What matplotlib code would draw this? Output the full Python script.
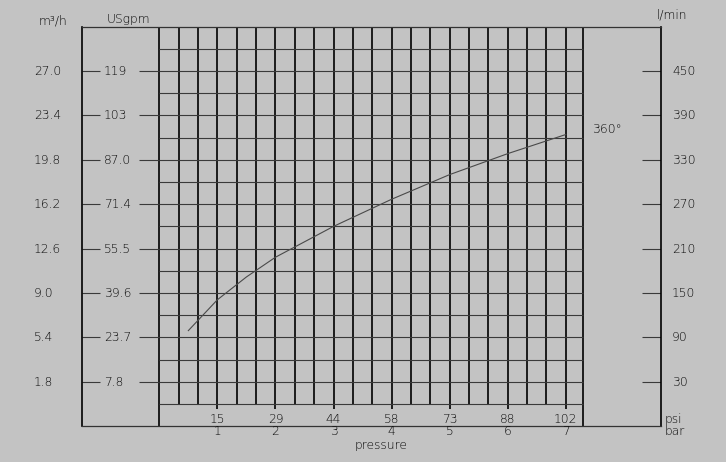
import matplotlib
matplotlib.use("Agg")
import matplotlib.pyplot as plt
import numpy as np

# curve (pressure in bar, flow in m3/h)
pressure_bar = [0.5, 0.7, 1.0, 1.5, 2.0, 3.0, 4.0, 5.0, 6.0, 7.0]
flow_m3h = [5.95, 6.95, 8.45, 10.3, 11.9, 14.4, 16.6, 18.6, 20.3, 21.85]
curve_label = "360°"

# axis labels
flow_ticks = [1.8, 5.4, 9.0, 12.6, 16.2, 19.8, 23.4, 27.0]
m3h_labels = ["1.8", "5.4", "9.0", "12.6", "16.2", "19.8", "23.4", "27.0"]
gpm_labels = ["7.8", "23.7", "39.6", "55.5", "71.4", "87.0", "103", "119"]
lmin_labels = ["30", "90", "150", "210", "270", "330", "390", "450"]
bar_ticks = [1, 2, 3, 4, 5, 6, 7]
psi_labels = ["15", "29", "44", "58", "73", "88", "102"]

BG = "#c3c3c3"
TXT = "#0a0a0a"
FS = 8.8
plt.rcParams["font.weight"] = "light"

# pixel layout of the original picture
X0, PX_BAR = 159.3, 58.07
Y0, PX_M3H = 404.0, 22.2 / 1.8
GRID_RIGHT = 7.3


def fx(px):
    return (px - X0) / PX_BAR


def fy(py):
    return (Y0 - py) / PX_M3H


fig = plt.figure(figsize=(7.26, 4.62), dpi=100, facecolor=BG)
ax = fig.add_axes([82 / 726, (462 - 426) / 462, (661 - 82) / 726, (426 - 27) / 462])
ax.set_facecolor(BG)
ax.set_xlim(fx(82), fx(661))
ax.set_ylim(fy(426), fy(27))
ax.set_xticks([])
ax.set_yticks([])
for side in ["left", "right"]:
    ax.spines[side].set_color("black")
    ax.spines[side].set_linewidth(1.2)
for side in ["top", "bottom"]:
    ax.spines[side].set_color("#333333")
    ax.spines[side].set_linewidth(0.9)

# grid
ax.vlines([0, GRID_RIGHT], fy(426), fy(27), color="black", lw=1.2)
minor = np.arange(1, 22) / 3.0
ax.vlines(minor, 0, fy(27), color="black", lw=1.2)
ax.vlines(bar_ticks, fy(409), 0, color="black", lw=1.2)
hl = np.arange(0, 17) * 1.8
ax.hlines(hl, 0, GRID_RIGHT, color="#3a3a3a", lw=0.8)

# side ticks
ax.hlines(flow_ticks, fx(82), fx(100), color="#3a3a3a", lw=0.8)
ax.hlines(flow_ticks, fx(139), 0, color="#3a3a3a", lw=0.8)
ax.hlines(flow_ticks, fx(642), fx(661), color="#3a3a3a", lw=0.8)

# curve
ax.plot(pressure_bar, flow_m3h, color="#4a4a4a", lw=0.8)
ax.text(fx(592), fy(129), curve_label, fontsize=FS, color=TXT, va="center", ha="left")

# labels
for v, a, b, c in zip(flow_ticks, m3h_labels, gpm_labels, lmin_labels):
    ax.text(fx(34), v, a, fontsize=FS, color=TXT, va="center", ha="left")
    ax.text(fx(104), v, b, fontsize=FS, color=TXT, va="center", ha="left")
    ax.text(fx(672), v, c, fontsize=FS, color=TXT, va="center", ha="left")

ax.text(fx(39), fy(21), "m³/h", fontsize=FS, color=TXT, va="center", ha="left")
ax.text(fx(107), fy(19), "USgpm", fontsize=FS, color=TXT, va="center", ha="left")
ax.text(fx(657), fy(15), "l/min", fontsize=FS, color=TXT, va="center", ha="left")

for b, p in zip(bar_ticks, psi_labels):
    ax.text(b, fy(419), p, fontsize=FS, color=TXT, va="center", ha="center")
    ax.text(b, fy(431), str(b), fontsize=FS, color=TXT, va="center", ha="center")
ax.text(fx(665), fy(419), "psi", fontsize=FS, color=TXT, va="center", ha="left")
ax.text(fx(665), fy(431), "bar", fontsize=FS, color=TXT, va="center", ha="left")
ax.text(fx(381), fy(445), "pressure", fontsize=FS, color=TXT, va="center", ha="center")

fig.savefig("out.png", dpi=100, facecolor=BG)
